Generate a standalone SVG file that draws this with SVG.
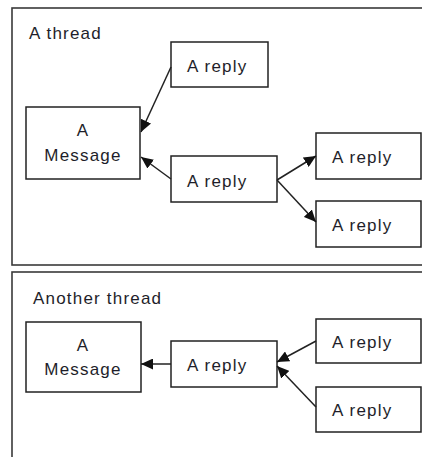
<svg xmlns="http://www.w3.org/2000/svg" width="422" height="457" viewBox="0 0 422 457">
  <style>
    .frame { fill: none; stroke: #3a3a3a; stroke-width: 1.6; }
    .box { fill: #ffffff; stroke: #222222; stroke-width: 1.5; }
    .lbl { font-family: "Liberation Sans", Arial, sans-serif; font-size: 17px; letter-spacing: 1.2px; fill: #1e1e2a; }
    .mid { text-anchor: middle; }
    .edge { stroke: #222222; stroke-width: 1.5; fill: none; marker-end: url(#arrow); }
  </style>
  <defs>
    <marker id="arrow" markerUnits="userSpaceOnUse" markerWidth="13" markerHeight="11" refX="12" refY="5.5" orient="auto">
      <path d="M0,0 L12,5.5 L0,11 Z" fill="#111111"/>
    </marker>
  </defs>

  <rect width="422" height="457" fill="#ffffff"/>

  <!-- first thread -->
  <g id="thread1">
    <rect class="frame" x="12" y="8" width="430" height="257"/>
    <text class="lbl" x="29" y="39">A thread</text>
  </g>
  <g id="t1-message">
    <rect class="box" x="26" y="107" width="114" height="72"/>
    <text class="lbl mid" x="83" y="136">A</text>
    <text class="lbl mid" x="83" y="161">Message</text>
  </g>
  <g id="t1-reply-top">
    <rect class="box" x="171" y="42" width="97" height="45"/>
    <text class="lbl" x="187" y="72">A reply</text>
  </g>
  <g id="t1-reply-mid">
    <rect class="box" x="171" y="156" width="106" height="46"/>
    <text class="lbl" x="187" y="187">A reply</text>
  </g>
  <g id="t1-reply-right1">
    <rect class="box" x="316" y="133" width="105" height="46"/>
    <text class="lbl" x="332" y="163">A reply</text>
  </g>
  <g id="t1-reply-right2">
    <rect class="box" x="316" y="201" width="105" height="46"/>
    <text class="lbl" x="332" y="231">A reply</text>
  </g>

  <!-- second thread -->
  <g id="thread2">
    <rect class="frame" x="12" y="272" width="430" height="200"/>
    <text class="lbl" x="33" y="304">Another thread</text>
  </g>
  <g id="t2-message">
    <rect class="box" x="26" y="322" width="115" height="70"/>
    <text class="lbl mid" x="83" y="351">A</text>
    <text class="lbl mid" x="83" y="375">Message</text>
  </g>
  <g id="t2-reply-mid">
    <rect class="box" x="171" y="341" width="106" height="46"/>
    <text class="lbl" x="187" y="371">A reply</text>
  </g>
  <g id="t2-reply-right1">
    <rect class="box" x="316" y="319" width="105" height="44"/>
    <text class="lbl" x="332" y="348">A reply</text>
  </g>
  <g id="t2-reply-right2">
    <rect class="box" x="316" y="387" width="105" height="45"/>
    <text class="lbl" x="332" y="416">A reply</text>
  </g>

  <!-- connectors -->
  <g id="connectors">
    <line class="edge" x1="171" y1="67" x2="141" y2="132"/>
    <line class="edge" x1="171" y1="179" x2="141" y2="157"/>
    <line class="edge" x1="277" y1="180" x2="316" y2="156"/>
    <line class="edge" x1="277" y1="180" x2="316" y2="222"/>
    <line class="edge" x1="171" y1="364" x2="141" y2="364"/>
    <line class="edge" x1="316" y1="341" x2="277" y2="362"/>
    <line class="edge" x1="316" y1="407" x2="277" y2="366"/>
  </g>
</svg>
